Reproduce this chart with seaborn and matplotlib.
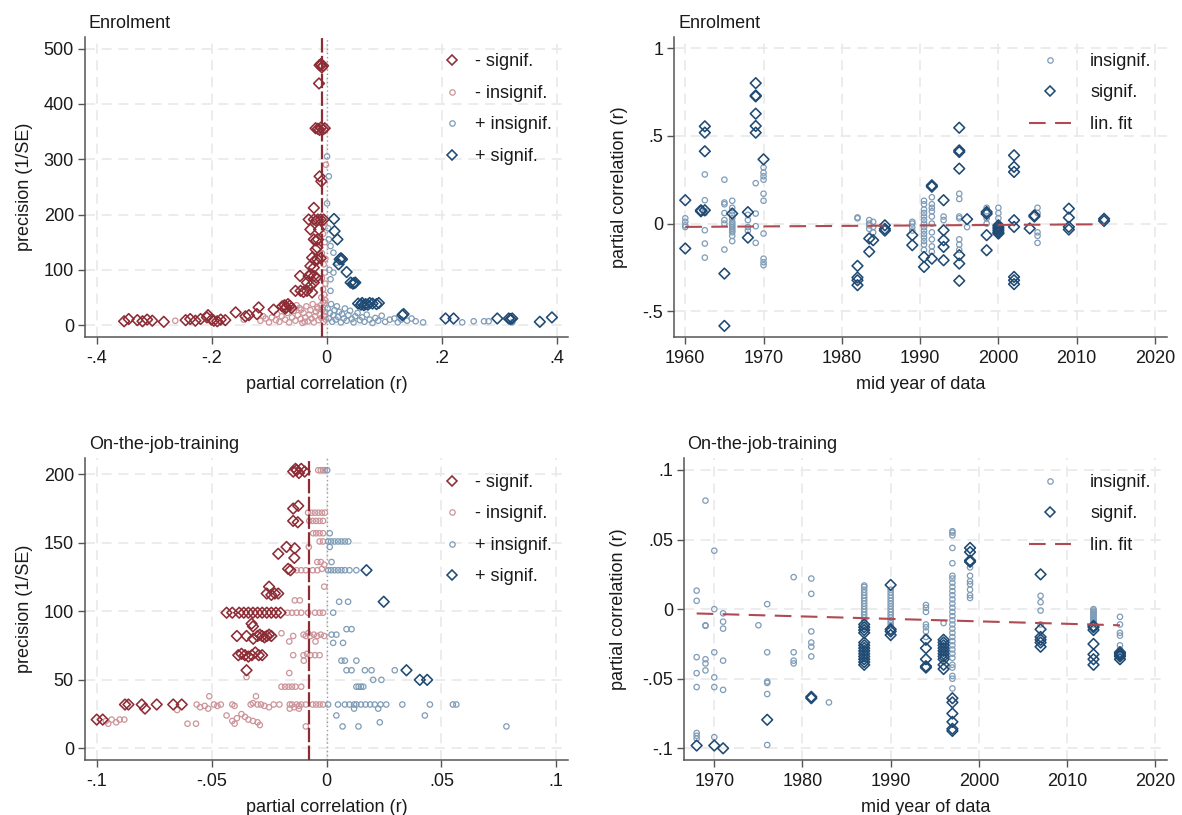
import numpy as np
import pandas as pd
import matplotlib
matplotlib.use("Agg")
import matplotlib.pyplot as plt
from matplotlib.lines import Line2D
import seaborn as sns

# ---------------- DATA ----------------
# Enrolment funnel: (partial correlation r, precision 1/SE)
enrol_neg_sig = [
    (-0.012, 470), (-0.009, 471), (-0.006, 469), (-0.008, 466), (-0.010, 472), (-0.013, 437),
    (-0.019, 356), (-0.015, 355), (-0.010, 357), (-0.006, 354), (-0.003, 356), (-0.012, 353),
    (-0.012, 269), (-0.009, 260), (-0.022, 212),
    (-0.031, 191), (-0.022, 191), (-0.015, 191), (-0.010, 191), (-0.005, 191), (-0.018, 189),
    (-0.028, 173), (-0.013, 173), (-0.022, 155), (-0.015, 155), (-0.018, 153),
    (-0.019, 137), (-0.016, 140), (-0.025, 122), (-0.016, 119), (-0.010, 121), (-0.020, 117),
    (-0.028, 107), (-0.022, 104), (-0.046, 89), (-0.031, 89), (-0.022, 89), (-0.027, 92), (-0.018, 86),
    (-0.034, 77), (-0.022, 77), (-0.028, 71), (-0.054, 62), (-0.045, 62), (-0.034, 62), (-0.025, 59), (-0.040, 60),
    (-0.077, 34), (-0.073, 36), (-0.070, 32), (-0.067, 38), (-0.064, 35), (-0.061, 31), (-0.072, 30),
    (-0.118, 32), (-0.092, 28), (-0.158, 23), (-0.141, 16), (-0.121, 20), (-0.135, 18), (-0.206, 18),
    (-0.352, 7), (-0.344, 11), (-0.329, 9), (-0.320, 7), (-0.312, 10), (-0.303, 8), (-0.283, 6),
    (-0.245, 9), (-0.237, 11), (-0.228, 8), (-0.219, 11), (-0.208, 14), (-0.196, 8), (-0.184, 10),
    (-0.176, 9), (-0.200, 10), (-0.190, 7)]
enrol_neg_insig = [
    (-0.001, 290), (-0.004, 185), (-0.006, 165), (-0.003, 150), (-0.008, 130), (-0.002, 120),
    (-0.005, 110), (-0.003, 95), (-0.008, 85), (-0.002, 75), (-0.006, 65), (-0.004, 55), (-0.009, 50),
    (-0.002, 45), (-0.263, 8), (-0.144, 10), (-0.115, 8), (-0.106, 12), (-0.100, 5), (-0.095, 14),
    (-0.088, 9), (-0.082, 6), (-0.078, 16), (-0.072, 10), (-0.068, 22), (-0.065, 5), (-0.060, 14),
    (-0.057, 26), (-0.054, 8), (-0.050, 18), (-0.047, 31), (-0.045, 11), (-0.042, 4), (-0.040, 22),
    (-0.037, 14), (-0.035, 34), (-0.032, 7), (-0.030, 19), (-0.028, 27), (-0.026, 12), (-0.024, 38),
    (-0.022, 5), (-0.020, 16), (-0.018, 24), (-0.016, 33), (-0.014, 9), (-0.012, 20), (-0.010, 36),
    (-0.009, 13), (-0.007, 28), (-0.005, 6), (-0.004, 17), (-0.003, 40), (-0.002, 24), (-0.001, 10),
    (-0.110, 16), (-0.086, 20), (-0.062, 30), (-0.052, 36), (-0.044, 28), (-0.038, 6), (-0.015, 30),
    (-0.006, 42)]
enrol_pos_insig = [
    (0.001, 305), (0.004, 269), (0.001, 220), (0.003, 175), (0.004, 155), (0.007, 143), (0.012, 131),
    (0.018, 113), (0.005, 100), (0.012, 95), (0.007, 83), (0.007, 62),
    (0.002, 30), (0.004, 12), (0.006, 22), (0.008, 38), (0.010, 6), (0.012, 18), (0.014, 27),
    (0.016, 10), (0.018, 34), (0.020, 15), (0.022, 24), (0.025, 5), (0.027, 20), (0.030, 12),
    (0.032, 30), (0.035, 8), (0.038, 18), (0.041, 26), (0.044, 11), (0.047, 5), (0.050, 16),
    (0.054, 22), (0.058, 9), (0.062, 14), (0.066, 6), (0.070, 19), (0.075, 10), (0.080, 4),
    (0.085, 13), (0.090, 8), (0.096, 17), (0.102, 6), (0.110, 10), (0.118, 12), (0.124, 5),
    (0.130, 10), (0.140, 8), (0.148, 12), (0.155, 7), (0.168, 5),
    (0.236, 5), (0.256, 7), (0.274, 7), (0.282, 7), (0.323, 5)]
enrol_pos_sig = [
    (0.013, 192), (0.014, 170), (0.019, 155), (0.023, 119), (0.027, 119), (0.025, 121), (0.021, 110),
    (0.035, 96), (0.042, 77), (0.046, 75), (0.050, 77), (0.048, 76),
    (0.055, 39), (0.060, 37), (0.062, 40), (0.068, 38), (0.072, 37), (0.075, 40), (0.080, 39),
    (0.087, 38), (0.091, 40), (0.065, 36), (0.134, 20), (0.132, 18),
    (0.207, 12), (0.221, 12), (0.297, 12), (0.317, 12), (0.323, 12), (0.320, 11), (0.371, 6), (0.392, 14)]
enrol_mean_r = -0.0075

# Enrolment by mid year of data: {year: [partial correlations]}
enrol_year_insig = {
    1960: [0.03, 0.01, -0.02, -0.01],
    1962.5: [0.28, 0.133, 0.07, 0.06, -0.038, -0.114, -0.194],
    1965: [0.25, 0.12, 0.11, 0.06, 0.02, 0.0, -0.148],
    1966: [0.13, 0.09, 0.07, 0.05, 0.03, 0.01, 0.0, -0.01, -0.02, -0.03, -0.04, -0.05, -0.07, -0.10],
    1968: [0.05, 0.02, -0.02, -0.04],
    1969: [0.23, 0.057, -0.015, -0.11],
    1970: [0.32, 0.29, 0.27, 0.25, 0.17, 0.13, -0.057, -0.20, -0.22, -0.237],
    1982: [0.035, 0.03],
    1983.5: [0.02, 0.0, -0.01, -0.03],
    1984: [-0.05, 0.01, -0.02],
    1989: [0.0, 0.01, -0.02, -0.04],
    1990.5: [0.13, 0.11, 0.08, 0.06, 0.04, 0.02, 0.0, -0.02, -0.04, -0.06, -0.08, -0.10, -0.12, -0.15],
    1991.5: [0.15, 0.11, 0.09, 0.07, 0.04, 0.0, -0.05, -0.09, -0.13, -0.16],
    1993: [0.04, 0.02],
    1995: [0.17, 0.14, 0.04, 0.03, -0.09, -0.12, -0.15],
    1996: [-0.02],
    1998.5: [0.09, 0.07, 0.03, 0.0],
    2000: [0.09, 0.06, 0.03, -0.01, -0.06],
    2005: [0.09, 0.06, -0.05, -0.07, -0.11],
}
enrol_year_sig = {
    1960: [0.133, -0.142],
    1962: [0.076, 0.07],
    1962.5: [0.554, 0.518, 0.412, 0.076],
    1965: [-0.285, -0.583],
    1966: [0.057],
    1968: [0.065, -0.08],
    1969: [0.80, 0.73, 0.725, 0.626, 0.556, 0.518],
    1970: [0.366],
    1982: [-0.241, -0.307, -0.323, -0.351],
    1983.5: [-0.085, -0.16],
    1984: [-0.095],
    1985.5: [-0.01, -0.03, -0.04],
    1989: [-0.066, -0.123],
    1990.5: [-0.19, -0.247],
    1991.5: [0.218, 0.21, -0.2],
    1993: [0.133, -0.038, -0.095, -0.133, -0.209],
    1995: [0.546, 0.417, 0.408, 0.313, -0.18, -0.228, -0.326],
    1996: [0.025],
    1998.5: [0.066, 0.055, -0.066, -0.152],
    2000: [-0.01, -0.02, -0.03, -0.04, -0.05, -0.057],
    2002: [0.389, 0.323, 0.294, 0.019, -0.019, -0.304, -0.323, -0.345],
    2004: [-0.028],
    2004.6: [0.047, 0.04],
    2009: [0.085, 0.034, -0.019, -0.034],
    2013.5: [0.027, 0.015],
}
enrol_fit_year = [1960, 2013.5]
enrol_fit_r = [-0.019, -0.004]

# On-the-job-training funnel: (partial correlation r, precision 1/SE)
ojt_neg_sig = [
    (-0.0145, 202), (-0.0130, 203), (-0.0120, 201), (-0.0110, 204), (-0.0095, 202), (-0.0135, 204),
    (-0.0145, 175), (-0.0123, 177), (-0.0145, 166), (-0.0125, 165),
    (-0.0210, 142), (-0.0174, 147), (-0.0138, 146), (-0.0140, 139), (-0.0167, 131), (-0.0157, 130),
    (-0.0250, 118), (-0.0260, 113), (-0.0240, 112), (-0.0225, 113), (-0.0210, 113),
    (-0.0435, 99), (-0.0410, 99), (-0.0380, 99), (-0.0360, 99), (-0.0340, 99), (-0.0320, 99),
    (-0.0300, 99), (-0.0280, 99), (-0.0260, 99), (-0.0240, 99), (-0.0220, 99), (-0.0200, 99),
    (-0.0326, 91), (-0.0320, 89),
    (-0.0390, 82), (-0.0348, 82), (-0.0319, 80), (-0.0300, 82), (-0.0290, 83), (-0.0280, 82),
    (-0.0270, 81), (-0.0260, 82), (-0.0250, 83), (-0.0240, 82),
    (-0.0384, 68), (-0.0370, 69), (-0.0355, 68), (-0.0340, 67), (-0.0325, 68), (-0.0310, 70),
    (-0.0295, 68), (-0.0280, 68), (-0.0348, 57),
    (-0.0877, 32), (-0.0862, 32), (-0.0804, 32), (-0.0790, 29), (-0.0739, 32), (-0.0667, 32),
    (-0.0630, 32), (-0.1000, 21), (-0.0974, 21)]
ojt_neg_insig = [
    (-0.0036, 203), (-0.0025, 203), (-0.0015, 203), (-0.0007, 203),
    (-0.0080, 172), (-0.0065, 172), (-0.0050, 172), (-0.0035, 172), (-0.0020, 172), (-0.0007, 172),
    (-0.0075, 166), (-0.0060, 166), (-0.0045, 166), (-0.0030, 166), (-0.0015, 166),
    (-0.0058, 157), (-0.0045, 157), (-0.0030, 157), (-0.0015, 157), (-0.0030, 151), (-0.0015, 151),
    (-0.0077, 147), (-0.0040, 136), (-0.0025, 136), (-0.0010, 134),
    (-0.0130, 130), (-0.0110, 130), (-0.0090, 130), (-0.0060, 130), (-0.0040, 130), (-0.0020, 131),
    (-0.0010, 118), (-0.0138, 108), (-0.0116, 108),
    (-0.0170, 99), (-0.0150, 99), (-0.0130, 99), (-0.0110, 99), (-0.0080, 99), (-0.0050, 99),
    (-0.0030, 99), (-0.0015, 99),
    (-0.0196, 84), (-0.0145, 82), (-0.0100, 83), (-0.0090, 82), (-0.0080, 84), (-0.0070, 82),
    (-0.0055, 83), (-0.0040, 82), (-0.0025, 83), (-0.0010, 82), (-0.0162, 78), (-0.0048, 78),
    (-0.0145, 68), (-0.0100, 68), (-0.0085, 69), (-0.0070, 68), (-0.0050, 68), (-0.0030, 68),
    (-0.0099, 64), (-0.0162, 55), (-0.0348, 52),
    (-0.0196, 45), (-0.0180, 45), (-0.0165, 45), (-0.0150, 45), (-0.0135, 45), (-0.0110, 45),
    (-0.0510, 38), (-0.0307, 38),
    (-0.0565, 32), (-0.0550, 30), (-0.0530, 31), (-0.0515, 29), (-0.0490, 32), (-0.0475, 31),
    (-0.0460, 32), (-0.0410, 32), (-0.0400, 31), (-0.0330, 32), (-0.0320, 33), (-0.0300, 32),
    (-0.0285, 32), (-0.0270, 31), (-0.0250, 30), (-0.0230, 32), (-0.0205, 32), (-0.0160, 32),
    (-0.0150, 32), (-0.0140, 30), (-0.0130, 32), (-0.0120, 31), (-0.0110, 32), (-0.0090, 32),
    (-0.0060, 32), (-0.0045, 32), (-0.0030, 32), (-0.0015, 32), (-0.0160, 29), (-0.0120, 29),
    (-0.0650, 28),
    (-0.0435, 24), (-0.0390, 22), (-0.0370, 25), (-0.0355, 23), (-0.0340, 21), (-0.0320, 20),
    (-0.0300, 19), (-0.0290, 17), (-0.0400, 18), (-0.0410, 20),
    (-0.0960, 20), (-0.0950, 18), (-0.0935, 21), (-0.0915, 19), (-0.0900, 21), (-0.0880, 21),
    (-0.0605, 18), (-0.0568, 18), (-0.0090, 16)]
ojt_pos_insig = [
    (0.0003, 203), (0.0014, 157),
    (0.0007, 151), (0.0020, 151), (0.0035, 151), (0.0050, 151), (0.0065, 151), (0.0080, 151), (0.0095, 151),
    (0.0014, 147), (0.0022, 136),
    (0.0007, 130), (0.0020, 130), (0.0035, 130), (0.0050, 130), (0.0065, 130), (0.0080, 130),
    (0.0100, 130), (0.0130, 130),
    (0.0055, 107), (0.0094, 107), (0.0029, 99), (0.0087, 87), (0.0109, 87), (0.0022, 83), (0.0043, 83),
    (0.0029, 77), (0.0072, 77), (0.0065, 64), (0.0080, 64), (0.0130, 64),
    (0.0087, 57), (0.0109, 57), (0.0167, 57), (0.0196, 57), (0.0297, 57), (0.0203, 50), (0.0239, 50),
    (0.0130, 45), (0.0140, 45), (0.0150, 45), (0.0160, 45),
    (0.0007, 32), (0.0050, 32), (0.0080, 32), (0.0100, 32), (0.0120, 32), (0.0130, 32), (0.0150, 32),
    (0.0170, 32), (0.0190, 32), (0.0210, 32), (0.0235, 32), (0.0260, 32), (0.0330, 32), (0.0450, 32),
    (0.0550, 32), (0.0565, 32), (0.0120, 29), (0.0225, 29),
    (0.0043, 24), (0.0428, 24), (0.0232, 19), (0.0070, 16), (0.0139, 16), (0.0783, 16)]
ojt_pos_sig = [(0.0174, 130), (0.0249, 107), (0.0348, 57), (0.0406, 50), (0.0438, 50)]
ojt_mean_r = -0.0077

# On-the-job-training by mid year of data
ojt_year_insig = {
    1968: [0.0133, 0.006, -0.0345, -0.046, -0.056, -0.089, -0.091, -0.093],
    1969: [0.078, -0.0116, -0.012, -0.036, -0.039, -0.044],
    1970: [0.042, 0.0, -0.031, -0.049, -0.056, -0.092],
    1971: [-0.003, -0.009, -0.014, -0.037, -0.058],
    1975: [-0.0116],
    1976: [0.0036, -0.031, -0.052, -0.053, -0.061, -0.0976],
    1979: [0.023, -0.031, -0.037, -0.039],
    1981: [0.022, 0.011, -0.016, -0.024, -0.027, -0.034],
    1983: [-0.067],
    1987: [0.017, 0.016, 0.014, 0.012, 0.010, 0.008, 0.006, 0.004, 0.002, 0.0, -0.002, -0.004,
           -0.006, -0.008, -0.010],
    1990: [0.014, 0.012, 0.010, 0.008, 0.006, 0.004, 0.002, 0.0, -0.002, -0.004, -0.006, -0.008,
           -0.010, -0.012],
    1994: [0.003, 0.001, -0.002, -0.011, -0.013, -0.016, -0.020],
    1996: [-0.010],
    1997: [0.056, 0.055, 0.053, 0.044, 0.033, 0.024, 0.022, 0.019, 0.016, 0.013, 0.010, 0.007, 0.004,
           0.001, -0.002, -0.005, -0.008, -0.011, -0.014, -0.017, -0.020, -0.023, -0.026, -0.029,
           -0.032, -0.035, -0.040, -0.042, -0.048, -0.050, -0.057],
    1999: [0.030, 0.024, 0.020, 0.018, 0.014, 0.010, 0.008],
    2007: [0.0096, 0.005, -0.001, -0.011],
    2013: [0.0, -0.001, -0.002, -0.003, -0.004, -0.005, -0.006, -0.007, -0.008, -0.009, -0.010, -0.011],
    2016: [-0.0055, -0.011, -0.017, -0.019, -0.026, -0.029],
}
ojt_year_sig = {
    1968: [-0.098], 1970: [-0.098], 1971: [-0.1], 1976: [-0.0795], 1981: [-0.063, -0.064],
    1987: [-0.011, -0.013, -0.015, -0.017, -0.024, -0.026, -0.028, -0.030, -0.032, -0.034, -0.036,
           -0.038, -0.040],
    1990: [0.0174, -0.0145, -0.016, -0.0186],
    1994: [-0.022, -0.028, -0.036, -0.041, -0.042],
    1996: [-0.022, -0.024, -0.026, -0.028, -0.030, -0.032, -0.034, -0.036, -0.040, -0.043],
    1997: [-0.064, -0.067, -0.075, -0.081, -0.086, -0.0875],
    1999: [0.044, 0.041, 0.035, 0.034],
    2007: [0.025, -0.0145, -0.020, -0.022, -0.024, -0.027],
    2013: [-0.012, -0.013, -0.015, -0.025, -0.0325, -0.036, -0.040],
    2016: [-0.031, -0.032, -0.033, -0.034, -0.036],
}
ojt_fit_year = [1968, 2016]
ojt_fit_r = [-0.0031, -0.0116]

# ticks / labels
enrol_funnel_xticks = [-0.4, -0.2, 0, 0.2, 0.4]
enrol_funnel_xticklabels = ["-.4", "-.2", "0", ".2", ".4"]
enrol_funnel_yticks = [0, 100, 200, 300, 400, 500]
ojt_funnel_xticks = [-0.1, -0.05, 0, 0.05, 0.1]
ojt_funnel_xticklabels = ["-.1", "-.05", "0", ".05", ".1"]
ojt_funnel_yticks = [0, 50, 100, 150, 200]
enrol_year_yticks = [-0.5, 0, 0.5, 1]
enrol_year_yticklabels = ["-.5", "0", ".5", "1"]
ojt_year_yticks = [-0.1, -0.05, 0, 0.05, 0.1]
ojt_year_yticklabels = ["-.1", "-.05", "0", ".05", ".1"]
year_ticks = [1960, 1970, 1980, 1990, 2000, 2010, 2020]
ojt_year_ticks = [1970, 1980, 1990, 2000, 2010, 2020]

# ---------------- STYLE ----------------
sns.set_theme(style="white")
plt.rcParams['font.family'] = ['Liberation Sans', 'DejaVu Sans']

DRED = "#8e2c36"
PINK = "#cc9499"
LBLUE = "#7f9cb7"
DBLUE = "#1f4a73"
FITRED = "#b04a52"
GRID = "#e9e9e9"
AXC = "#555555"
TXT = "#1a1a1a"
FS = 13

W, H = 1182, 815
fig = plt.figure(figsize=(W / 100, H / 100), dpi=100)
fig.patch.set_facecolor("white")

def px_axes(l, r, t, b):
    return fig.add_axes([l / W, 1 - b / H, (r - l) / W, (b - t) / H])

ax_tl = px_axes(85, 568, 37, 337.3)
ax_tr = px_axes(674.3, 1166.7, 37, 337.3)
ax_bl = px_axes(85, 568, 458.3, 760)
ax_br = px_axes(684.3, 1166.7, 458.3, 760)

DIA = dict(marker="D", s=30, facecolor="none", linewidth=1.15)
CIR = dict(marker="o", s=15, facecolor="none", linewidth=0.9)

def style(ax, xlim, ylim, xt, xtl, yt, ytl, xlabel, ylabel, ylab_x):
    ax.set_xlim(*xlim)
    ax.set_ylim(*ylim)
    ax.set_xticks(xt)
    ax.set_xticklabels(xtl)
    ax.set_yticks(yt)
    ax.set_yticklabels(ytl)
    ax.set_xlabel(xlabel, fontsize=FS, color=TXT)
    ax.set_ylabel(ylabel, fontsize=FS, color=TXT)
    ax.yaxis.set_label_coords(ylab_x, 0.5)
    ax.xaxis.set_label_coords(0.5, -0.13)
    ax.grid(True, color=GRID, linestyle=(0, (6, 4)), linewidth=1.2)
    ax.set_axisbelow(True)
    for s in ["top", "right"]:
        ax.spines[s].set_visible(False)
    for s in ["left", "bottom"]:
        ax.spines[s].set_color(AXC)
        ax.spines[s].set_linewidth(1.1)
    ax.tick_params(direction="out", length=5, width=1, color=AXC, labelsize=FS,
                   labelcolor=TXT, left=True, bottom=True)
    ax.tick_params(axis="x", pad=4)
    ax.tick_params(axis="y", pad=3)

def pairs_df(pairs):
    return pd.DataFrame(pairs, columns=["r", "prec"])

def stacks_df(d):
    rows = [(y, v) for y, vals in d.items() for v in vals]
    return pd.DataFrame(rows, columns=["year", "r"])

def funnel(ax, neg_sig, neg_ins, pos_ins, pos_sig, mean_r):
    ax.axvline(0, color="#9a9a9a", linestyle=(0, (1, 2)), linewidth=1.0, zorder=1)
    for data, c, kw in [(neg_ins, PINK, CIR), (pos_ins, LBLUE, CIR),
                        (neg_sig, DRED, DIA), (pos_sig, DBLUE, DIA)]:
        df = pairs_df(data)
        sns.scatterplot(data=df, x="r", y="prec", ax=ax, edgecolor=c, color=c, legend=False,
                        zorder=3, **kw)
    ax.axvline(mean_r, color=DRED, linestyle=(0, (6.5, 1.5)), linewidth=1.6, zorder=4)

def yearplot(ax, ins, sig, fit_x, fit_y):
    sns.scatterplot(data=stacks_df(ins), x="year", y="r", ax=ax, edgecolor=LBLUE, color=LBLUE,
                    legend=False, zorder=3, **CIR)
    sns.scatterplot(data=stacks_df(sig), x="year", y="r", ax=ax, edgecolor=DBLUE, color=DBLUE,
                    legend=False, zorder=3, **DIA)
    sns.lineplot(x=fit_x, y=fit_y, ax=ax, color=FITRED, linewidth=1.5,
                 linestyle=(0, (8, 4.5)), zorder=4)

def h_dia(c):
    return Line2D([], [], marker="D", linestyle="none", markerfacecolor="none",
                  markeredgecolor=c, markersize=5.3, markeredgewidth=1.15)

def h_cir(c):
    return Line2D([], [], marker="o", linestyle="none", markerfacecolor="none",
                  markeredgecolor=c, markersize=3.9, markeredgewidth=0.9)

def legend(ax, handles, labels, left_px, top_px, hl, hp):
    ax.legend(handles, labels, loc="upper left", bbox_to_anchor=(left_px / W, 1 - top_px / H),
              bbox_transform=fig.transFigure, frameon=False, fontsize=FS, borderpad=0,
              borderaxespad=0, labelspacing=0.80, handlelength=hl, handletextpad=hp,
              labelcolor=TXT)

# ---- Enrolment funnel
funnel(ax_tl, enrol_neg_sig, enrol_neg_insig, enrol_pos_insig, enrol_pos_sig, enrol_mean_r)
style(ax_tl, (-0.42, 0.42), (-22, 521), enrol_funnel_xticks, enrol_funnel_xticklabels,
      enrol_funnel_yticks, [str(v) for v in enrol_funnel_yticks],
      "partial correlation (r)", "precision (1/SE)", -0.108)
legend(ax_tl, [h_dia(DRED), h_cir(PINK), h_cir(LBLUE), h_dia(DBLUE)],
       ["- signif.", "- insignif.", "+ insignif.", "+ signif."], 443, 53.5, 1.0, 0.78)

# ---- Enrolment by year
yearplot(ax_tr, enrol_year_insig, enrol_year_sig, enrol_fit_year, enrol_fit_r)
style(ax_tr, (1958.6, 2021.5), (-0.648, 1.063), year_ticks, [str(v) for v in year_ticks],
      enrol_year_yticks, enrol_year_yticklabels, "mid year of data", "partial correlation (r)", -0.095)
fit_handle = Line2D([], [], color=FITRED, linewidth=1.5, linestyle=(0, (8, 4.5)))
legend(ax_tr, [h_cir(LBLUE), h_dia(DBLUE), fit_handle], ["insignif.", "signif.", "lin. fit"],
       1029, 53, 2.33, 1.05)

# ---- OJT funnel
funnel(ax_bl, ojt_neg_sig, ojt_neg_insig, ojt_pos_insig, ojt_pos_sig, ojt_mean_r)
style(ax_bl, (-0.1051, 0.1051), (-8.5, 211.7), ojt_funnel_xticks, ojt_funnel_xticklabels,
      ojt_funnel_yticks, [str(v) for v in ojt_funnel_yticks],
      "partial correlation (r)", "precision (1/SE)", -0.108)
legend(ax_bl, [h_dia(DRED), h_cir(PINK), h_cir(LBLUE), h_dia(DBLUE)],
       ["- signif.", "- insignif.", "+ insignif.", "+ signif."], 443, 474, 1.0, 0.78)

# ---- OJT by year
yearplot(ax_br, ojt_year_insig, ojt_year_sig, ojt_fit_year, ojt_fit_r)
style(ax_br, (1966.6, 2021.3), (-0.1084, 0.1084), ojt_year_ticks, [str(v) for v in ojt_year_ticks],
      ojt_year_yticks, ojt_year_yticklabels, "mid year of data", "partial correlation (r)", -0.118)
legend(ax_br, [h_cir(LBLUE), h_dia(DBLUE), fit_handle], ["insignif.", "signif.", "lin. fit"],
       1029, 474, 2.33, 1.05)

# ---- panel titles
for x, y, t in [(89, 23, "Enrolment"), (678, 23, "Enrolment"),
                (89, 445, "On-the-job-training"), (687, 445, "On-the-job-training")]:
    fig.text(x / W, 1 - y / H, t, ha="left", va="center", fontsize=FS, color=TXT)

fig.savefig("out.png", dpi=100, facecolor="white")
